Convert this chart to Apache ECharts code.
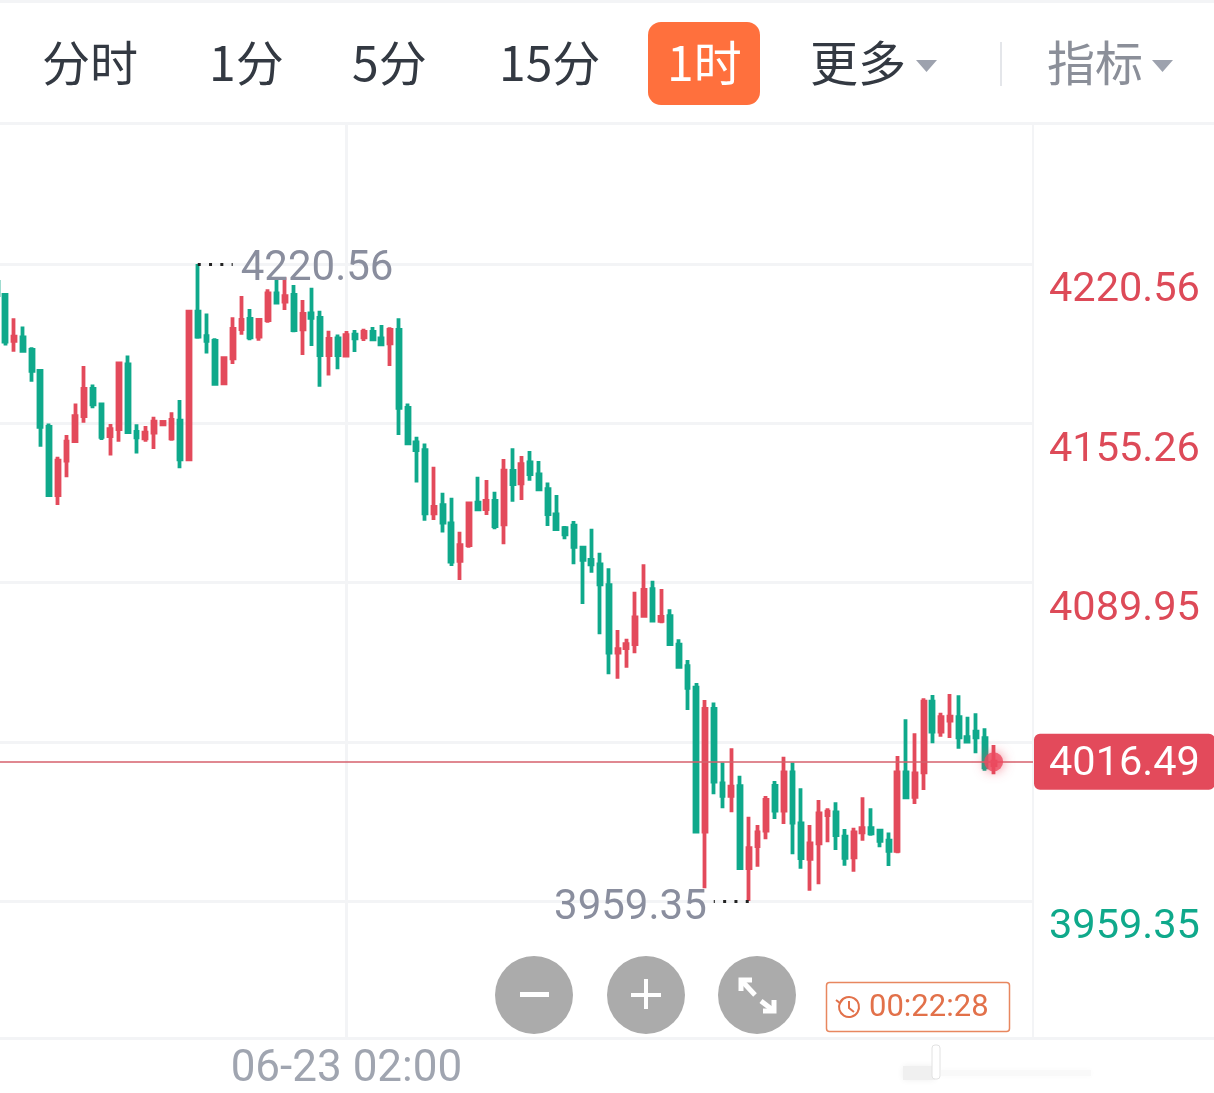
<!DOCTYPE html>
<html>
<head>
<meta charset="utf-8">
<style>html,body{margin:0;padding:0;background:#fff}#kline{width:1214px;height:1093px}</style>
<script src="https://cdn.jsdelivr.net/npm/echarts@6/dist/echarts.min.js"></script>
</head>
<body>
<div id="kline"></div>
<script>
// Hourly candles, oldest first
const opens = [4213.2,4207.9,4189.1,4190.5,4185.3,4176.7,4153.8,4125.8,4139.9,4147.9,
4158.2,4169.3,4163.0,4150.0,4152.9,4179.4,4151.7,4149.1,4151.4,4154.8,
4149.1,4156.3,4140.5,4201.0,4191.0,4189.0,4171.6,4181.9,4193.9,4198.0,
4190.8,4197.6,4208.5,4205.1,4207.9,4193.8,4200.3,4198.5,4183.2,4190.1,
4183.0,4191.6,4190.5,4192.7,4190.1,4188.0,4193.5,4161.6,4147.4,4144.2,
4118.3,4121.7,4114.2,4098.8,4105.3,4122.7,4120.1,4123.4,4113.8,4135.7,
4130.6,4139.2,4134.3,4128.2,4117.9,4112.2,4113.3,4104.2,4099.2,4097.4,
4088.9,4061.2,4063.1,4064.7,4076.3,4087.2,4074.2,4076.2,4064.5,4055.7,
4046.8,3987.8,4038.1,4007.6,4002.5,4006.5,3972.8,3981.9,3988.2,4006.6,
3996.4,4012.1,3991.2,3976.6,3983.0,3994.6,3995.7,3985.7,3977.3,3987.5,
3989.2,3988.2,3984.1,3979.9,4012.1,4002.1,4012.1,4041.1,4028.8,4033.3,
4034.7,4026.5,4028.8,4026.1,4015.1];
const closes = [4207.8,4188.7,4190.8,4184.9,4176.7,4153.8,4125.8,4139.9,4147.7,4158.2,
4169.3,4163.0,4149.7,4152.8,4179.8,4151.6,4149.5,4151.4,4155.9,4155.8,
4156.6,4140.5,4201.0,4190.8,4189.0,4171.4,4182.0,4193.9,4197.6,4190.5,
4197.6,4208.5,4204.7,4207.4,4193.5,4200.1,4198.5,4183.2,4189.9,4183.2,
4191.4,4190.1,4192.7,4189.7,4187.6,4193.5,4161.6,4147.0,4144.2,4118.3,
4121.0,4114.5,4098.5,4105.3,4122.4,4120.0,4123.4,4113.1,4135.8,4130.3,
4138.5,4134.4,4128.2,4118.0,4111.9,4109.7,4104.6,4099.2,4097.4,4089.2,
4061.2,4062.6,4064.7,4075.7,4086.9,4074.3,4075.9,4064.7,4055.4,4046.8,
3987.8,4038.1,4008.3,4002.5,4006.2,3972.8,3981.0,3987.5,4000.8,3996.4,
4012.1,3991.5,3976.9,3983.0,3995.3,3996.0,3986.4,3977.1,3987.5,3989.2,
3987.1,3984.0,3979.9,4012.1,4001.9,4011.7,4041.1,4028.8,4034.7,4034.9,
4026.5,4024.7,4026.5,4014.2,4016.49];
const lows = [4205.8,4187.1,4184.6,4184.6,4172.3,4145.6,4125.4,4121.7,4133.1,4147.9,
4155.5,4161.4,4148.4,4142.0,4147.7,4151.1,4142.9,4147.7,4144.7,4154.8,
4148.1,4136.8,4140.2,4189.9,4183.9,4171.1,4171.1,4179.6,4191.6,4189.3,
4189.1,4196.5,4204.2,4201.7,4192.6,4183.2,4186.9,4170.2,4174.8,4177.4,
4182.8,4184.5,4189.0,4189.0,4187.1,4178.7,4150.4,4146.8,4131.0,4115.3,
4115.6,4110.5,4096.7,4091.0,4104.2,4119.8,4117.6,4111.8,4105.6,4123.1,
4123.8,4131.7,4127.9,4113.1,4111.8,4107.7,4097.4,4081.1,4094.0,4068.7,
4052.3,4050.5,4055.0,4060.9,4076.3,4073.9,4073.2,4064.3,4054.8,4037.7,
3987.8,3964.6,4003.1,3997.4,3995.7,3972.8,3959.35,3973.4,3984.7,3993.0,
3990.9,3978.5,3972.6,3963.6,3966.2,3983.4,3980.3,3973.8,3971.4,3984.1,
3986.1,3981.4,3973.7,3978.9,4001.1,3999.1,4004.9,4024.0,4026.7,4026.2,
4021.8,4024.3,4019.9,4012.8,4011.3];
const highs = [4214.0,4208.5,4198.3,4194.9,4186.4,4177.4,4155.2,4141.5,4150.4,4163.4,
4178.7,4171.2,4163.2,4155.0,4180.3,4183.0,4154.8,4154.1,4157.9,4155.8,
4159.8,4164.8,4201.3,4220.56,4200.3,4190.1,4182.3,4198.7,4207.4,4202.1,
4197.9,4210.2,4214.0,4215.1,4212.0,4205.8,4210.8,4201.4,4193.2,4191.7,
4193.1,4193.5,4194.0,4194.7,4195.5,4194.6,4198.3,4163.4,4149.7,4147.0,
4137.4,4126.8,4124.7,4110.8,4122.4,4133.3,4132.0,4127.2,4140.6,4145.0,
4141.8,4143.9,4139.8,4131.0,4125.8,4113.1,4115.2,4104.4,4112.0,4102.2,
4095.8,4070.5,4066.9,4086.2,4097.4,4090.7,4087.3,4079.0,4066.7,4058.2,
4048.7,4041.8,4040.8,4016.1,4022.0,4010.7,3993.9,3990.5,4002.4,4008.6,
4018.5,4016.2,4005.6,3990.5,4000.8,3997.4,3999.8,3988.9,3989.4,4001.9,
3997.4,3988.9,3987.4,4018.8,4033.9,4028.1,4042.5,4043.8,4036.6,4044.2,
4043.7,4034.9,4036.3,4030.2,4023.3];

const gridTicks = [3959.35, 4024.65, 4089.95, 4155.26, 4220.56];
const priceLabels = [3959.35, 4089.95, 4155.26, 4220.56];
const lastPrice = 4016.49;
const periodHigh = 4220.56;
const periodLow = 3959.35;
const highIndex = 23;
const lowIndex = 86;
const timeLabelIndex = 40;
const timeLabel = '06-23 02:00';
const countdown = '00:22:28';
const slotCount = 119;   // the four empty slots keep room to the right of the live candle

const RED = '#e34a5b', TEAL = '#0fa98b', LINE = '#f3f4f6';
const NUM_FONT = 'Roboto, sans-serif';
const CJK_FONT = '"Noto Sans CJK SC", sans-serif';

const categories = Array.from({length: slotCount}, (_, i) => i === timeLabelIndex ? timeLabel : 'h' + i);
const candles = opens.map((o, i) => [o, closes[i], lows[i], highs[i]]);

function tabText(x, text, fill) {
  return {type: 'text', x, y: 63, silent: true,
    style: {text, fill: fill || '#333942', font: '400 48px ' + CJK_FONT, verticalAlign: 'middle'}};
}
function tri(x, y, fill) {
  return {type: 'polygon', silent: true, shape: {points: [[x, y], [x + 21, y], [x + 10.5, y + 12]]}, style: {fill}};
}
function round(cx) {
  return {type: 'circle', silent: true, shape: {cx, cy: 995, r: 39}, style: {fill: '#ababab'}};
}
function stroke(points, color, w) {
  return {type: 'polyline', silent: true, shape: {points}, style: {stroke: color, lineWidth: w, fill: null}};
}

const overlay = [
  {type: 'rect', silent: true, shape: {x: 0, y: 0, width: 1214, height: 3}, style: {fill: LINE}},
  {type: 'rect', silent: true, shape: {x: 0, y: 122, width: 1214, height: 3}, style: {fill: LINE}},
  {type: 'rect', silent: true, shape: {x: 0, y: 1037, width: 1214, height: 3}, style: {fill: LINE}},
  tabText(42, '分时'), tabText(209, '1分'), tabText(352, '5分'), tabText(499, '15分'),
  {type: 'rect', silent: true, shape: {x: 648, y: 22, width: 112, height: 83, r: 13}, style: {fill: '#ff703d'}},
  tabText(667, '1时', '#ffffff'),
  tabText(810, '更多'), tri(916, 60, '#9da2ae'),
  {type: 'rect', silent: true, shape: {x: 1000, y: 42, width: 2, height: 44}, style: {fill: '#e4e6ea'}},
  tabText(1047, '指标', '#8b8f99'), tri(1152, 60, '#9da2ae'),
  round(534), round(646), round(757),
  {type: 'rect', silent: true, shape: {x: 520, y: 992, width: 29, height: 5}, style: {fill: '#fff'}},
  {type: 'rect', silent: true, shape: {x: 631, y: 993, width: 30, height: 4}, style: {fill: '#fff'}},
  {type: 'rect', silent: true, shape: {x: 644, y: 979, width: 4, height: 30}, style: {fill: '#fff'}},
  stroke([[741, 991], [741, 980], [752, 980]], '#fff', 5),
  stroke([[742, 981], [755, 995]], '#fff', 5),
  stroke([[761, 1001], [774, 1011]], '#fff', 5),
  stroke([[774, 1000], [774, 1011], [763, 1011]], '#fff', 5),
  {type: 'rect', silent: true, shape: {x: 826.5, y: 982.5, width: 183, height: 49, r: 3}, style: {fill: '#fff', stroke: '#e8875f', lineWidth: 1.5}},
  {type: 'arc', silent: true, shape: {cx: 849, cy: 1007, r: 10, startAngle: -2.6, endAngle: 3.6}, style: {stroke: '#e2714a', lineWidth: 2, fill: null}},
  stroke([[849, 1001], [849, 1008], [854, 1012]], '#e2714a', 2),
  stroke([[836, 1000], [840, 1003], [843, 999]], '#e2714a', 2),
  {type: 'text', silent: true, x: 869, y: 1008, style: {text: countdown, fill: '#e2714a', font: '31px ' + NUM_FONT, verticalAlign: 'middle'}},
  // faint stamp sitting on the footer
  {type: 'rect', silent: true, shape: {x: 903, y: 1066, width: 32, height: 14}, style: {fill: '#f0f0f0', shadowColor: '#f0f0f0', shadowBlur: 6}},
  {type: 'rect', silent: true, shape: {x: 941, y: 1070, width: 150, height: 6}, style: {fill: '#f9f9f9', shadowColor: '#f9f9f9', shadowBlur: 6}},
  {type: 'rect', silent: true, shape: {x: 932, y: 1045, width: 8, height: 34, r: 3}, style: {fill: '#fff', stroke: '#e2e2e2', lineWidth: 1}}
];

const chart = echarts.init(document.getElementById('kline'), null, {width: 1214, height: 1093});
chart.setOption({
  animation: false,
  backgroundColor: '#ffffff',
  grid: {left: -7.8, right: 181, top: 125, bottom: 55, containLabel: false, outerBoundsMode: 'none'},
  xAxis: {
    type: 'category',
    data: categories,
    boundaryGap: true,
    axisLine: {show: false},
    axisTick: {show: false},
    splitLine: {show: true, alignWithLabel: true, interval: (i) => i === timeLabelIndex, lineStyle: {color: LINE, width: 3}},
    axisLabel: {
      show: true, interval: (i) => i === timeLabelIndex, margin: 10,
      color: '#a0a5b0', fontFamily: NUM_FONT, fontSize: 44, hideOverlap: false,
      alignMinLabel: 'center', alignMaxLabel: 'center'
    }
  },
  yAxis: {
    type: 'value',
    position: 'right',
    min: 3903.18,
    max: 4277.56,
    axisLine: {show: true, lineStyle: {color: LINE, width: 2}},
    axisTick: {show: false, customValues: gridTicks},
    splitLine: {show: true, lineStyle: {color: LINE, width: 3}},
    axisLabel: {
      customValues: priceLabels, margin: 16, fontFamily: NUM_FONT, fontSize: 41.5, verticalAlign: 'top', padding: [6, 0, 0, 0],
      color: '#dd4a58',
      formatter: (v) => Number(v).toFixed(2) === periodLow.toFixed(2) ? '{low|' + Number(v).toFixed(2) + '}' : Number(v).toFixed(2),
      rich: {low: {color: TEAL, fontFamily: NUM_FONT, fontSize: 41.5}}
    }
  },
  series: [
    {
      type: 'candlestick',
      data: candles,
      barWidth: 3.4,
      itemStyle: {color: RED, color0: TEAL, borderColor: RED, borderColor0: TEAL, borderWidth: 3.8},
      markLine: {
        silent: true, symbol: 'none', animation: false,
        data: [
          [{coord: [highIndex, periodHigh], lineStyle: {color: '#222', width: 3, type: [3, 8.3]}, label: {show: false}}, {coord: [highIndex + 4, periodHigh]}],
          [{coord: [lowIndex, periodLow], lineStyle: {color: '#222', width: 3, type: [3, 8.3]}, label: {show: false}}, {coord: [lowIndex - 4, periodLow]}],
          {yAxis: lastPrice, lineStyle: {color: '#d6606c', width: 1.5, type: 'solid'},
            label: {show: true, position: 'end', distance: 1, formatter: '{v|' + lastPrice.toFixed(2) + '}',
              backgroundColor: '#e34a5b', borderRadius: 6, padding: [4, 15, 4, 15],
              rich: {v: {color: '#fff', fontFamily: NUM_FONT, fontSize: 41.5, padding: [6, 0, 0, 0]}}}}
        ]
      },
      markPoint: {
        silent: true, symbol: 'circle', symbolSize: 0, animation: false,
        data: [
          {coord: [highIndex, periodHigh], label: {show: true, position: 'right', distance: 43, offset: [0, 5], formatter: periodHigh.toFixed(2), color: '#8a8e9e', fontFamily: NUM_FONT, fontSize: 42}},
          {coord: [lowIndex, periodLow], label: {show: true, position: 'left', distance: 42, offset: [0, 7], formatter: periodLow.toFixed(2), color: '#8a8e9e', fontFamily: NUM_FONT, fontSize: 42}}
        ]
      }
    },
    {
      type: 'scatter',
      silent: true,
      data: [[candles.length - 1, lastPrice]],
      symbolSize: 19,
      z: 5,
      itemStyle: {color: '#ec4a5f', shadowColor: 'rgba(236,74,95,0.85)', shadowBlur: 12}
    }
  ],
  graphic: overlay
});
</script>
</body>
</html>
